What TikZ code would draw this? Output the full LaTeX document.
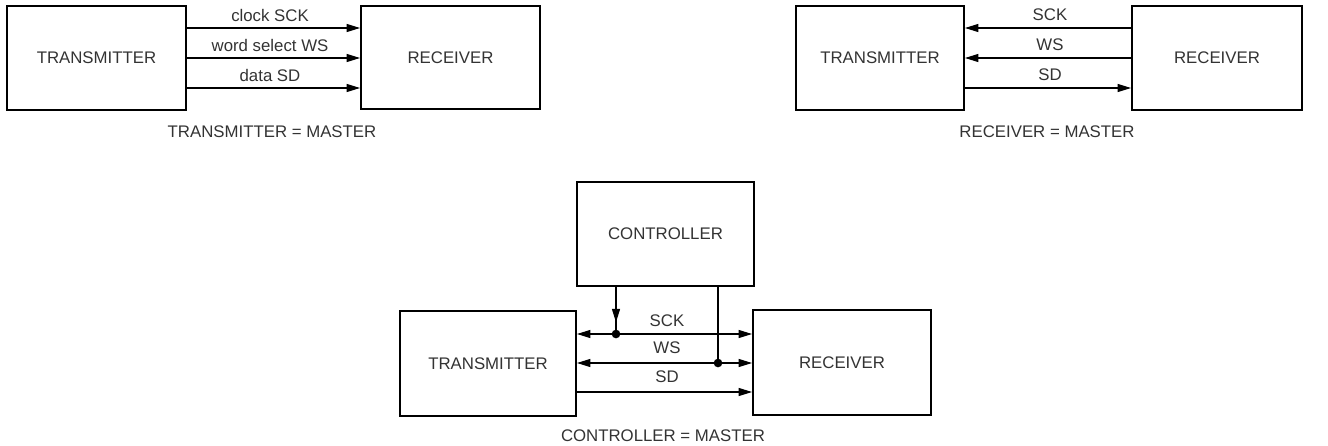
\documentclass[tikz,border=0pt]{standalone}
\usepackage{fontspec}
\setmainfont{Liberation Sans}
\usetikzlibrary{arrows.meta,decorations.markings}
\begin{document}
\begin{tikzpicture}[x=0.75pt,y=-0.75pt,
  blk/.style={draw=black,line width=1.5pt,inner sep=0pt,text=black!80,font=\fontsize{12.6}{14}\selectfont},
  lbl/.style={inner sep=0pt,text=black!80,font=\fontsize{12.6}{14}\selectfont},
  wire/.style={line width=0.85pt},
  tip/.style={-{Triangle[length=10pt,width=6pt]}},
  tips/.style={{Triangle[length=10pt,width=6pt]}-{Triangle[length=10pt,width=6pt]}},
  dotn/.style={circle,fill=black,inner sep=0pt,minimum size=6.5pt},
  midarrow/.style={decoration={markings,mark=at position #1 with {\arrow{Triangle[length=10pt,width=6pt]}}},postaction={decorate}}
]
\useasboundingbox (0,0) rectangle (1328,446);
% ---------- diagram 1 ----------
\node[blk,minimum width=134.25pt,minimum height=78pt] (T1) at (96.5,58) {TRANSMITTER};
\node[blk,minimum width=134.25pt,minimum height=77.25pt] (R1) at (450.5,57.5) {RECEIVER};
\draw[wire,tip] (T1.east |- 0,28) -- (R1.west |- 0,28);
\draw[wire,tip] (T1.east |- 0,58) -- (R1.west |- 0,58);
\draw[wire,tip] (T1.east |- 0,88) -- (R1.west |- 0,88);
\node[lbl] (l1a) at (270,15) {clock SCK};
\node[lbl] (l1b) at (270,45) {word select WS};
\node[lbl] (l1c) at (270,75) {data SD};
\node[lbl] (c1) at (272,132) {TRANSMITTER = MASTER};
% ---------- diagram 2 ----------
\node[blk,minimum width=126pt,minimum height=78pt] (T2) at (880,58) {TRANSMITTER};
\node[blk,minimum width=127.5pt,minimum height=78pt] (R2) at (1217,58) {RECEIVER};
\draw[wire,tip] (R2.west |- 0,28) -- (T2.east |- 0,28);
\draw[wire,tip] (R2.west |- 0,58) -- (T2.east |- 0,58);
\draw[wire,tip] (T2.east |- 0,88) -- (R2.west |- 0,88);
\node[lbl] (l2a) at (1050,15) {SCK};
\node[lbl] (l2b) at (1050,45) {WS};
\node[lbl] (l2c) at (1050,75) {SD};
\node[lbl] (c2) at (1047,132) {RECEIVER = MASTER};
% ---------- diagram 3 ----------
\node[blk,minimum width=132.75pt,minimum height=78pt] (C) at (665.5,234) {CONTROLLER};
\node[blk,minimum width=132pt,minimum height=78.75pt] (T3) at (488,363.5) {TRANSMITTER};
\node[blk,minimum width=133.5pt,minimum height=78.75pt] (R3) at (842,362.5) {RECEIVER};
\node[dotn] (d1) at (616,334) {};
\node[dotn] (d2) at (718,363) {};
\draw[wire,tips] (T3.east |- d1) -- (R3.west |- d1);
\draw[wire,tips] (T3.east |- d2) -- (R3.west |- d2);
\draw[wire,tip] (T3.east |- 0,392) -- (R3.west |- 0,392);
\draw[wire,midarrow=0.75] (C.south -| d1) -- (d1.center);
\draw[wire] (C.south -| d2) -- (d2.center);
\node[lbl] (l3a) at (667,321) {SCK};
\node[lbl] (l3b) at (667,348) {WS};
\node[lbl] (l3c) at (667,377) {SD};
\node[lbl] (c3) at (663,436) {CONTROLLER = MASTER};
\end{tikzpicture}
\end{document}
